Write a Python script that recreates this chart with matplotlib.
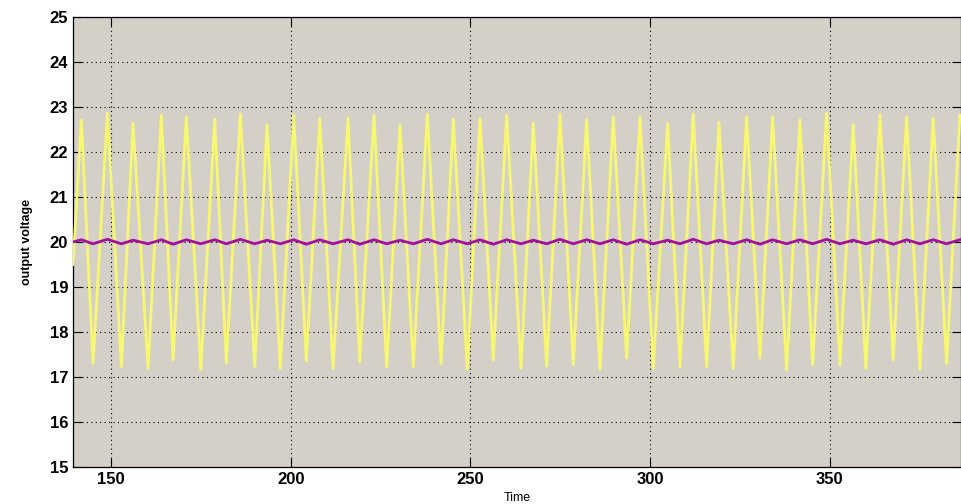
import matplotlib
matplotlib.use("Agg")
import matplotlib.pyplot as plt

# ---------- data ----------

# yellow trace: start point, then alternating peaks / troughs
start_time = [139.4]
start_value = [19.5]

peak_times = [141.73, 148.97, 156.12, 164.00, 170.96, 178.86, 185.99, 193.42,
              200.85, 208.09, 215.96, 223.20, 230.43, 238.03, 245.27, 252.70,
              260.13, 267.53, 274.96, 282.40, 289.80, 297.23, 304.94, 312.06,
              319.22, 326.93, 334.16, 341.76, 349.19, 356.60, 364.03, 371.46,
              378.86, 386.29]
peak_values = [22.71, 22.86, 22.64, 22.82, 22.78, 22.73, 22.84, 22.60,
               22.82, 22.75, 22.75, 22.82, 22.60, 22.84, 22.73, 22.75,
               22.82, 22.64, 22.84, 22.71, 22.78, 22.78, 22.64, 22.84,
               22.66, 22.78, 22.78, 22.71, 22.86, 22.61, 22.82, 22.78,
               22.75, 22.82]

trough_times = [144.99, 152.87, 160.30, 167.26, 174.97, 182.09, 190.00, 197.12,
                204.36, 211.79, 219.22, 226.73, 234.13, 241.85, 249.17, 256.40,
                264.11, 271.26, 278.67, 286.10, 293.53, 300.93, 308.36, 315.80,
                323.20, 330.63, 338.06, 345.30, 352.89, 360.13, 367.73, 375.16,
                382.59]
trough_values = [17.30, 17.23, 17.19, 17.38, 17.16, 17.32, 17.23, 17.19,
                 17.36, 17.19, 17.34, 17.22, 17.23, 17.30, 17.17, 17.38,
                 17.19, 17.24, 17.27, 17.17, 17.42, 17.19, 17.23, 17.23,
                 17.19, 17.42, 17.16, 17.27, 17.27, 17.19, 17.38, 17.17,
                 17.30]

# magenta trace: small ripple around 20, in phase with the yellow one
ripple_start = [20.00]
ripple_peaks = [20.05, 20.06, 20.04, 20.05, 20.05, 20.05, 20.06, 20.04,
                20.05, 20.05, 20.05, 20.05, 20.04, 20.06, 20.05, 20.05,
                20.05, 20.04, 20.06, 20.05, 20.05, 20.05, 20.04, 20.06,
                20.04, 20.05, 20.05, 20.05, 20.06, 20.04, 20.05, 20.05,
                20.05, 20.05]
ripple_troughs = [19.96, 19.96, 19.96, 19.95, 19.96, 19.96, 19.96, 19.96,
                  19.95, 19.96, 19.95, 19.96, 19.96, 19.96, 19.96, 19.95,
                  19.96, 19.96, 19.96, 19.96, 19.95, 19.96, 19.96, 19.96,
                  19.96, 19.95, 19.96, 19.96, 19.96, 19.96, 19.95, 19.96,
                  19.96]

x_ticks = [150, 200, 250, 300, 350]
y_ticks = [15, 16, 17, 18, 19, 20, 21, 22, 23, 24, 25]


def interleave(first, peaks, troughs):
    out = list(first)
    for i, p in enumerate(peaks):
        out.append(p)
        if i < len(troughs):
            out.append(troughs[i])
    return out


t = interleave(start_time, peak_times, trough_times)
v_out = interleave(start_value, peak_values, trough_values)
v_ref = interleave(ripple_start, ripple_peaks, ripple_troughs)

# ---------- figure ----------

plt.rcParams["font.family"] = ["Liberation Sans", "DejaVu Sans"]

fig = plt.figure(figsize=(9.62, 5.04), dpi=100)
fig.patch.set_facecolor("white")
ax = fig.add_axes([73 / 962, 37 / 504, 888 / 962, 450 / 504])
ax.set_facecolor("#d4d0c8")

ax.plot(t, v_out, color="#f8f870", linewidth=2.0, solid_joinstyle="round", zorder=3)
ax.plot(t, v_ref, color="#a3109c", linewidth=2.0, zorder=4)

ax.set_xlim(139.4, 386.6)
ax.set_ylim(15, 25)
ax.set_xticks(x_ticks)
ax.set_yticks(y_ticks)

ax.grid(True, color="black", linestyle=(0, (1, 3)), linewidth=0.8)
ax.set_axisbelow(True)

ax.tick_params(direction="in", length=6.5, width=0.8, top=True, right=True,
               labelsize=12, pad=3.5)
for lab in ax.get_xticklabels() + ax.get_yticklabels():
    lab.set_fontweight("bold")
for sp in ax.spines.values():
    sp.set_linewidth(0.9)

ax.set_ylabel("output voltage", fontsize=9, fontweight="bold", labelpad=12)
ax.set_xlabel("Time", fontsize=9, labelpad=4)

fig.savefig("out.png", dpi=100, facecolor="white")
